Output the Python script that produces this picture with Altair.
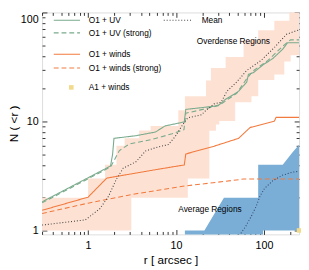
import altair as alt
import pandas as pd

# ---------------- data ----------------
# Overdense regions band (step edges): upper and lower boundaries
pink_upper_x = [0.3, 1.0, 1.56, 2.1, 2.6, 3.81, 5.14, 10.6, 12.6, 21.9, 24.9, 36.6, 58.5, 85.8, 131, 194]
pink_upper_y = [2.0, 3.0, 4.0, 6.0, 7.0, 8.25, 9.1, 12.7, 17.0, 23.8, 31.0, 39.0, 56.0, 68.5, 84.0, 110.0]
pink_lower_x = [0.3, 3.1, 13.6, 23.9, 28.4, 31.0, 47.0, 72.0, 86.0, 131, 170, 201]
pink_lower_y = [1.0, 2.0, 3.0, 8.2, 9.4, 10.1, 15.0, 17.0, 24.0, 27.0, 35.5, 40.4]

# Average regions band
blue_x = [12.6, 21.0, 35.0, 85.7, 85.8, 97.4, 97.5, 163, 210, 250]
blue_upper = [1.0, 1.0, 2.0, 2.0, 4.0, 4.0, 4.0, 4.0, 5.2, 6.1]
blue_lower = [0.5, 0.5, 0.5, 0.5, 0.5, 0.5, 1.0, 1.0, 1.0, 1.0]

# Lines
uv_x = [0.3, 1.8, 1.9, 1.97, 3.5, 5.85, 7.5, 12.4, 12.9, 27.1, 30.9, 36.6, 45.2, 51.4, 63.6, 66.5, 75.6, 97.6, 126, 163, 185, 250]
uv_y = [1.83, 3.9, 5.0, 7.0, 7.4, 8.0, 9.1, 9.9, 12.9, 13.8, 14.2, 16.0, 17.7, 18.9, 23.0, 27.1, 28.0, 33.1, 37.8, 46.0, 52.7, 52.7]

uvs_x = [0.3, 1.8, 2.27, 2.93, 5.14, 9.0, 12.3, 12.9, 18.5, 30.9, 36.9, 48.9, 63.1, 75.6, 110.8, 163, 200, 250]
uvs_y = [1.79, 3.82, 5.4, 6.2, 6.8, 7.7, 8.4, 11.9, 12.7, 14.0, 15.5, 18.1, 24.5, 29.2, 36.3, 49.0, 56.0, 56.0]

mean_x = [0.3, 0.93, 1.36, 1.71, 2.1, 2.51, 3.5, 4.52, 6.3, 8.15, 9.75, 11.96, 13.6, 19.4, 22.0, 27.1, 32.5, 37.9, 48.9, 63.1, 92.6, 132, 180, 227, 250]
mean_y = [1.12, 1.25, 1.58, 2.06, 2.96, 3.73, 4.26, 5.37, 5.85, 6.13, 7.24, 9.4, 10.8, 11.5, 12.7, 14.5, 15.0, 18.9, 23.0, 29.2, 36.3, 48.0, 63.0, 67.5, 69.0]

winds_x = [0.3, 1.0, 1.63, 5.85, 12.4, 12.9, 27.1, 51.4, 69.4, 131, 137, 250]
winds_y = [1.53, 2.02, 3.02, 3.61, 3.99, 5.03, 5.93, 7.0, 8.8, 10.06, 10.9, 10.9]

windss_x = [0.3, 1.0, 3.5, 12.6, 21.0, 58.5, 250]
windss_y = [1.43, 1.78, 2.17, 2.56, 2.68, 2.96, 2.97]

avgmean_x = [50, 61.5, 71.7, 81.5, 90.4, 101.6, 126, 163, 210, 250]
avgmean_y = [0.85, 1.08, 1.35, 1.67, 2.08, 2.44, 2.86, 3.22, 3.42, 3.5]

a1_x = [250]
a1_y = [1.0]

series_names = ["O1 + UV", "O1 + UV (strong)", "O1 + winds", "O1 + winds (strong)", "Mean", "Mean (average)"]

x_ticks = [0.3, 0.4, 0.5, 0.6, 0.7, 0.8, 0.9, 1, 2, 3, 4, 5, 6, 7, 8, 9,
           10, 20, 30, 40, 50, 60, 70, 80, 90, 100, 200]
y_ticks = [1, 2, 3, 4, 5, 6, 7, 8, 9, 10, 20, 30, 40, 50, 60, 70, 80, 90, 100]
major = [1, 10, 100]

# ---------------- styling ----------------
W, H = 264, 228
FONT = "Liberation Sans"
GREEN = "#79aa8c"
ORANGE = "#f27a3e"
PINK = "#fde2d4"
BLUE = "#7aaed6"
YELLOW = "#f2da8c"

xscale = alt.Scale(type="log", domain=[0.3, 250], nice=False)
yscale = alt.Scale(type="log", domain=[0.92, 100], nice=False)

tick_cond = {"condition": {"test": "indexof([1, 10, 100], datum.value) >= 0", "value": 5}, "value": 3}

ax_x_labels = alt.Axis(orient="bottom", values=major, format="d", ticks=False, domain=False, grid=False,
                       labelFontSize=11, labelPadding=5, labelColor="black", labelFont=FONT,
                       title="r [ arcsec ]", titleFontSize=12, titleFontWeight="normal",
                       titlePadding=5, titleColor="black", titleFont=FONT)
ax_y_labels = alt.Axis(orient="left", values=major, format="d", ticks=False, domain=False, grid=False,
                       labelFontSize=11, labelPadding=4, labelColor="black", labelFont=FONT,
                       labelFlush=True, labelFlushOffset=-1,
                       title="N ( <r )", titleFontSize=12, titleFontWeight="normal",
                       titleColor="black", titleFont=FONT, titleX=-22)
ax_x_in_bottom = alt.Axis(orient="top", offset=-H, values=x_ticks, labels=False, domain=False, grid=False,
                          title="", tickSize=tick_cond, tickColor="black", tickWidth=0.8)
ax_y_in_left = alt.Axis(orient="right", offset=-W, values=y_ticks, labels=False, domain=False, grid=False,
                        title="", tickSize=tick_cond, tickColor="black", tickWidth=0.8)
ax_x_in_top = alt.Axis(orient="bottom", offset=-H, values=x_ticks, labels=False, domain=False, grid=False,
                       title="", tickSize=tick_cond, tickColor="black", tickWidth=0.8)
ax_y_in_right = alt.Axis(orient="left", offset=-W, values=y_ticks, labels=False, domain=False, grid=False,
                         title="", tickSize=tick_cond, tickColor="black", tickWidth=0.8)


def step_val(xs, ys, x):
    v = ys[0]
    for xi, yi in zip(xs, ys):
        if xi <= x:
            v = yi
    return v


grid = sorted(set(pink_upper_x + pink_lower_x + [250]))
pink_df = pd.DataFrame({
    "x": grid,
    "up": [step_val(pink_upper_x, pink_upper_y, g) for g in grid],
    "lo": [step_val(pink_lower_x, pink_lower_y, g) for g in grid],
})

blue_df = pd.DataFrame({"x": blue_x, "up": blue_upper, "lo": blue_lower})

rows = []
for name, xs, ys in [("O1 + UV", uv_x, uv_y), ("O1 + UV (strong)", uvs_x, uvs_y),
                     ("O1 + winds", winds_x, winds_y), ("O1 + winds (strong)", windss_x, windss_y),
                     ("Mean", mean_x, mean_y), ("Mean (average)", avgmean_x, avgmean_y)]:
    for i, (a, b) in enumerate(zip(xs, ys)):
        rows.append({"series": name, "x": a, "y": b, "i": i})
lines_df = pd.DataFrame(rows)

a1_df = pd.DataFrame({"x": a1_x, "y": a1_y})

pink = alt.Chart(pink_df).mark_area(interpolate="step-after", color=PINK, clip=True).encode(
    x=alt.X("x:Q", scale=xscale, axis=ax_x_labels),
    y=alt.Y("up:Q", scale=yscale, axis=ax_y_labels),
    y2="lo:Q",
)

blue = alt.Chart(blue_df).mark_area(color=BLUE, opacity=1, clip=True).encode(
    x=alt.X("x:Q", scale=xscale, axis=ax_x_in_bottom),
    y=alt.Y("up:Q", scale=yscale, axis=ax_y_in_left),
    y2="lo:Q",
)

lines = alt.Chart(lines_df).mark_line(strokeWidth=1.1, clip=True).encode(
    x=alt.X("x:Q", scale=xscale, axis=ax_x_in_top),
    y=alt.Y("y:Q", scale=yscale, axis=ax_y_in_right),
    color=alt.Color("series:N", legend=None,
                    scale=alt.Scale(domain=series_names,
                                    range=[GREEN, GREEN, ORANGE, ORANGE, "#444444", "#34476a"])),
    strokeDash=alt.StrokeDash("series:N", legend=None,
                              scale=alt.Scale(domain=series_names,
                                              range=[[1, 0], [5, 3], [1, 0], [5, 3], [1, 2], [1, 2]])),
    order="i:Q",
)

a1 = alt.Chart(a1_df).mark_square(size=22, color=YELLOW, opacity=1).encode(
    x=alt.X("x:Q", scale=xscale, axis=None),
    y=alt.Y("y:Q", scale=yscale, axis=None),
)

# ---------------- in-plot legend ----------------
leg_items = [
    ("O1 + UV", GREEN, [1, 0], 8),
    ("O1 + UV (strong)", GREEN, [5, 3], 21),
    ("O1 + winds", ORANGE, [1, 0], 43),
    ("O1 + winds (strong)", ORANGE, [5, 3], 57),
]
legend_layers = []
for label, col, dash, yy in leg_items:
    legend_layers.append(
        alt.Chart(pd.DataFrame({"t": [label]})).mark_rule(color=col, strokeDash=dash, strokeWidth=1.1).encode(
            x=alt.value(12), x2=alt.value(39), y=alt.value(yy)))
    legend_layers.append(
        alt.Chart(pd.DataFrame({"t": [label]})).mark_text(align="left", baseline="middle", fontSize=8.5,
                                                          font=FONT, color="black").encode(
            x=alt.value(48), y=alt.value(yy), text="t:N"))
legend_layers.append(
    alt.Chart(pd.DataFrame({"t": ["A1 + winds"]})).mark_square(size=22, color=YELLOW, opacity=1).encode(
        x=alt.value(30), y=alt.value(77)))
legend_layers.append(
    alt.Chart(pd.DataFrame({"t": ["A1 + winds"]})).mark_text(align="left", baseline="middle", fontSize=8.5,
                                                           font=FONT, color="black").encode(
        x=alt.value(48), y=alt.value(77), text="t:N"))
legend_layers.append(
    alt.Chart(pd.DataFrame({"t": ["Mean"]})).mark_rule(color="#444444", strokeDash=[1, 2], strokeWidth=1.1).encode(
        x=alt.value(125), x2=alt.value(154), y=alt.value(8)))
legend_layers.append(
    alt.Chart(pd.DataFrame({"t": ["Mean"]})).mark_text(align="left", baseline="middle", fontSize=8.5,
                                                     font=FONT, color="black").encode(
        x=alt.value(164), y=alt.value(8), text="t:N"))
legend_layers.append(
    alt.Chart(pd.DataFrame({"t": ["Overdense Regions"]})).mark_text(align="left", baseline="middle", fontSize=8.5,
                                                                  font=FONT, color="black").encode(
        x=alt.value(159), y=alt.value(29), text="t:N"))
legend_layers.append(
    alt.Chart(pd.DataFrame({"t": ["Average Regions"]})).mark_text(align="left", baseline="middle", fontSize=8.5,
                                                                font=FONT, color="black").encode(
        x=alt.value(140), y=alt.value(202), text="t:N"))

chart = alt.layer(pink, blue, lines, a1, *legend_layers).resolve_axis(
    x="independent", y="independent"
).properties(
    width=W, height=H,
    autosize=alt.AutoSizeParams(type="none"),
    padding={"left": 35, "top": 1, "right": 2, "bottom": 33},
).configure_view(stroke="black", strokeWidth=1).configure(background="white")

chart.save("out.html", embed_options={"renderer": "svg", "actions": False})
